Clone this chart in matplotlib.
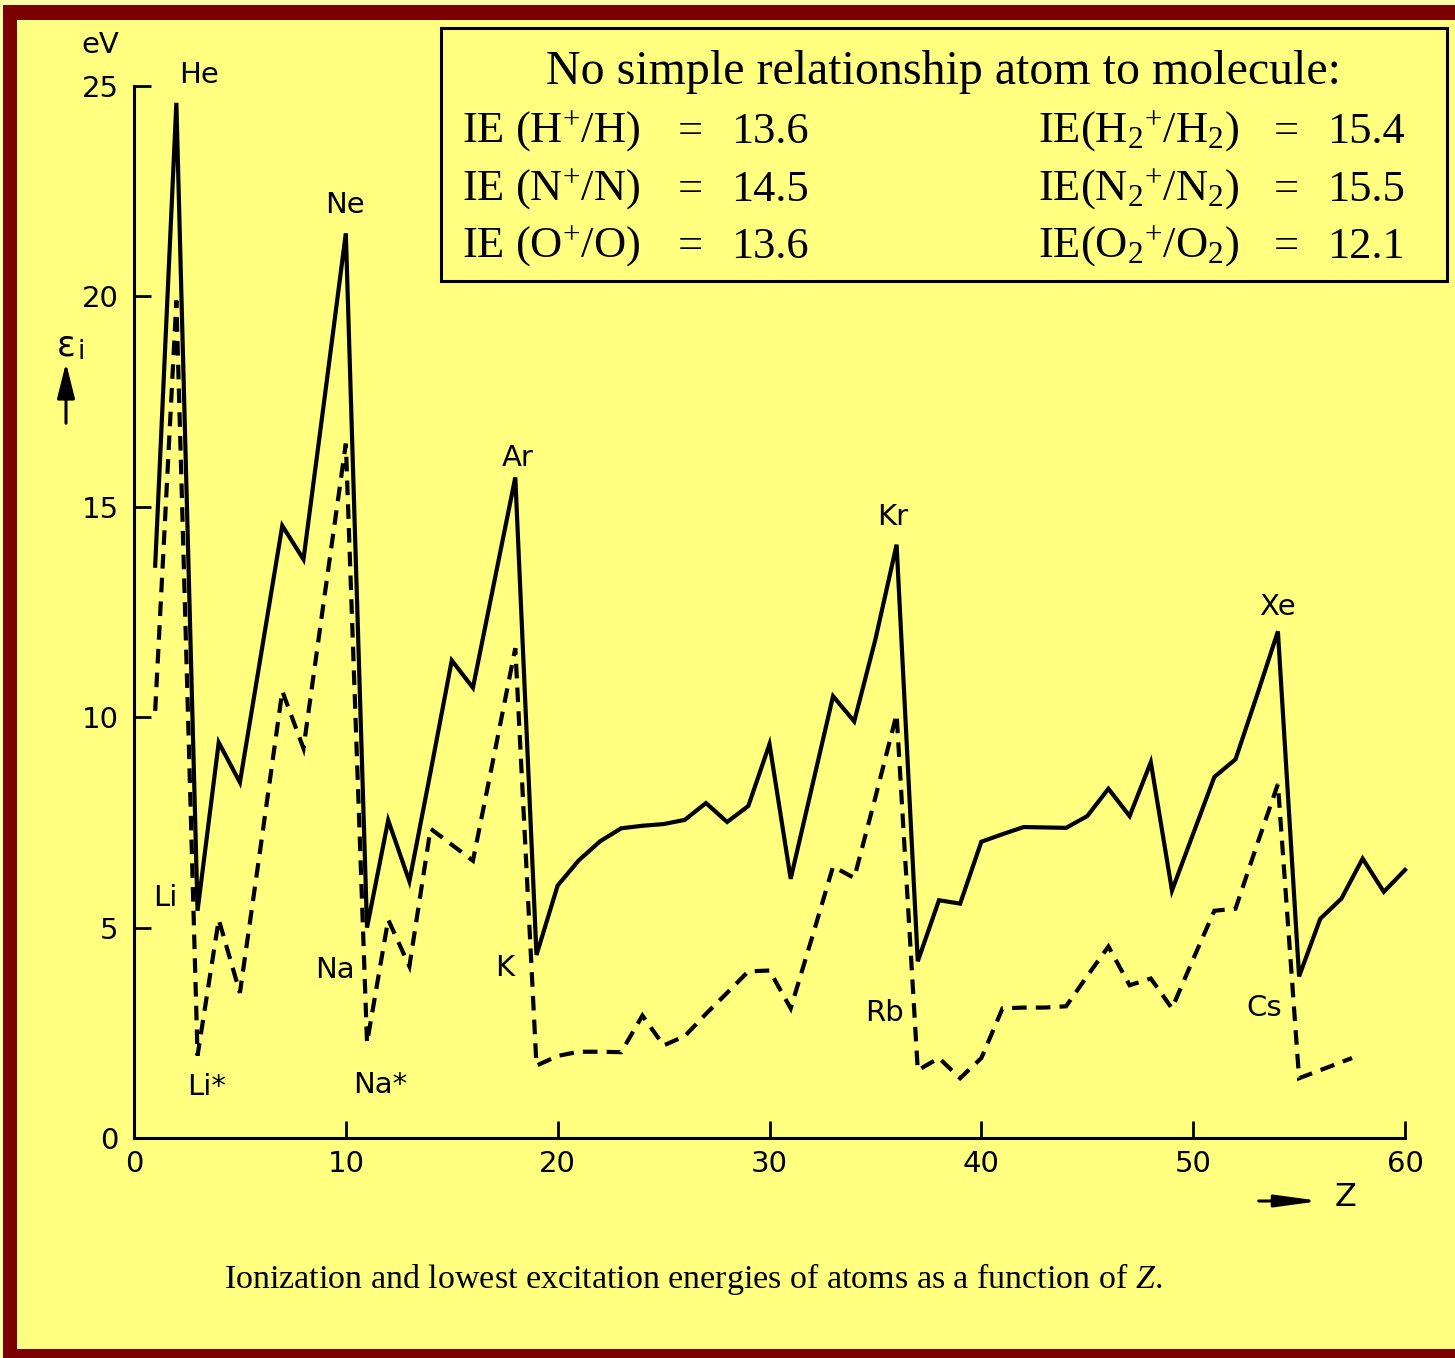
import matplotlib.pyplot as plt
from matplotlib.patches import Rectangle, FancyArrowPatch

plt.rcParams['mathtext.fontset'] = 'custom'
plt.rcParams['mathtext.rm'] = 'Liberation Serif'
plt.rcParams['mathtext.it'] = 'Liberation Serif:italic'

W, H = 1455, 1358

# first ionization energy (eV), Z = 1..60
z_ion = list(range(1, 61))
ion_energy = [13.6, 24.6, 5.4, 9.4, 8.45, 11.5, 14.55, 13.75, 17.6, 21.5,
              5.0, 7.55, 6.1, 8.7, 11.35, 10.7, 13.2, 15.7, 4.35, 6.0,
              6.6, 7.05, 7.36, 7.42, 7.46, 7.56, 7.96, 7.51, 7.89, 9.36,
              6.16, 8.33, 10.5, 9.9, 11.85, 14.1, 4.2, 5.65, 5.57, 7.04,
              7.22, 7.39, 7.38, 7.37, 7.65, 8.3, 7.65, 8.93, 5.88, 7.23,
              8.58, 9.0, 10.5, 12.04, 3.84, 5.21, 5.69, 6.64, 5.85, 6.37]

# lowest excitation energy (eV)
z_exc = list(range(1, 56)) + [57.5]
exc_energy = [10.15, 19.9, 1.96, 5.19, 3.45, 7.0, 10.62, 9.26, 12.9, 16.5,
              2.26, 5.19, 4.08, 7.35, 6.97, 6.59, 9.1, 11.64, 1.72, 1.95,
              2.05, 2.05, 2.04, 2.91, 2.2, 2.42, 2.95, 3.45, 3.96, 3.98,
              3.08, 4.75, 6.45, 6.18, 8.1, 10.07, 1.61, 1.9, 1.42, 1.9,
              3.08, 3.1, 3.1, 3.13, 3.85, 4.55, 3.63, 3.79, 3.08, 4.25,
              5.4, 5.45, 6.95, 8.41, 1.42, 1.9]

# element names written next to the curves
element_names = ['He', 'Ne', 'Ar', 'Kr', 'Xe', 'Li', 'Na', 'K', 'Rb', 'Cs', 'Li*', 'Na*']
element_x = [3.07, 9.97, 18.09, 35.8, 54.0, 1.46, 9.5, 17.52, 35.43, 53.34, 3.45, 11.62]
element_y = [25.26, 22.17, 16.16, 14.76, 12.62, 5.7, 3.99, 4.04, 2.97, 3.09, 1.21, 1.26]

x_ticks = [0, 10, 20, 30, 40, 50, 60]
y_ticks = [0, 5, 10, 15, 20, 25]

atom_rows = [r'IE (H$^{+}$/H)', r'IE (N$^{+}$/N)', r'IE (O$^{+}$/O)']
atom_values = ['13.6', '14.5', '13.6']
molecule_rows = [r'IE(H$_{2}{}^{+}$/H$_{2}$)', r'IE(N$_{2}{}^{+}$/N$_{2}$)',
                 r'IE(O$_{2}{}^{+}$/O$_{2}$)']
molecule_values = ['15.4', '15.5', '12.1']

YELLOW = '#FFFF80'
PALE = '#FFFFA8'
DARK_RED = '#7B0000'


def fx(px):
    return px / W


def fy(py):
    return 1 - py / H


fig = plt.figure(figsize=(W / 100, H / 100), dpi=100, facecolor=PALE)

# dark red frame (cut off on the right)
fig.patches.append(Rectangle((fx(3), 0), 1.1, fy(5), transform=fig.transFigure,
                             facecolor=DARK_RED, edgecolor='none', zorder=-10))
fig.patches.append(Rectangle((fx(17), fy(1349)), 1.1, (1349 - 20) / H,
                             transform=fig.transFigure, facecolor=YELLOW,
                             edgecolor='none', zorder=-9))

ax = fig.add_axes([fx(134), fy(1138), (1405 - 134) / W, (1138 - 86) / H])
ax.set_facecolor('none')

ax.plot(z_ion, ion_energy, color='black', lw=3.0, solid_joinstyle='miter',
        clip_on=False)
ax.plot(z_exc, exc_energy, color='black', lw=3.0, dashes=(3.5, 2.2),
        dash_joinstyle='miter', clip_on=False)

for name, x, y in zip(element_names, element_x, element_y):
    ax.text(x, y, name, fontsize=21, ha='center', va='center')

ax.set_xlim(0, 60)
ax.set_ylim(0, 25)
ax.set_xticks(x_ticks)
ax.set_yticks(y_ticks)
ax.spines['top'].set_visible(False)
ax.spines['right'].set_visible(False)
for side in ['left', 'bottom']:
    ax.spines[side].set_linewidth(2.2)
ax.tick_params(direction='in', length=12, width=2, labelsize=21)
ax.tick_params(axis='y', pad=11)
ax.tick_params(axis='x', pad=9)

# axis captions with arrows
fig.text(fx(100), fy(45), 'eV', fontsize=21, ha='center', va='center')
fig.text(fx(66), fy(346), 'ε', fontsize=25, ha='center', va='center')
fig.text(fx(81), fy(352), 'i', fontsize=19, ha='center', va='center')
fig.patches.append(FancyArrowPatch(
    (fx(66), fy(426)), (fx(66), fy(360)), transform=fig.transFigure,
    arrowstyle='-|>,head_length=1.8,head_width=0.45', mutation_scale=12,
    lw=2.2, color='black'))
fig.patches.append(FancyArrowPatch(
    (fx(1256), fy(1201)), (fx(1323), fy(1201)), transform=fig.transFigure,
    arrowstyle='-|>,head_length=2.2,head_width=0.3', mutation_scale=12,
    lw=2.2, color='black'))
fig.text(fx(1346), fy(1198), 'Z', fontsize=23, ha='center', va='center')

# comparison box, atoms vs. molecules
fig.patches.append(Rectangle((fx(441), fy(281)), (1447 - 441) / W, (281 - 28) / H,
                             transform=fig.transFigure, facecolor='none',
                             edgecolor='black', lw=2.2))
serif = 'Liberation Serif'
fig.text(fx(943), fy(84), 'No simple relationship atom to molecule:', fontsize=34.5,
         family=serif, ha='center', va='baseline')
row_base = [143, 201, 258]
for i, yb in enumerate(row_base):
    fig.text(fx(462), fy(yb), atom_rows[i], fontsize=32, family=serif, va='baseline')
    fig.text(fx(690), fy(yb), '=', fontsize=32, family=serif, ha='center', va='baseline')
    fig.text(fx(731), fy(yb), atom_values[i], fontsize=32, family=serif, va='baseline')
    fig.text(fx(1038), fy(yb), molecule_rows[i], fontsize=32, family=serif, va='baseline')
    fig.text(fx(1286), fy(yb), '=', fontsize=32, family=serif, ha='center', va='baseline')
    fig.text(fx(1327), fy(yb), molecule_values[i], fontsize=32, family=serif, va='baseline')

fig.text(fx(693), fy(1288),
         r'Ionization and lowest excitation energies of atoms as a function of $Z$.',
         fontsize=24.5, family=serif, ha='center', va='baseline')

fig.savefig('out.png', dpi=100, facecolor=fig.get_facecolor())
